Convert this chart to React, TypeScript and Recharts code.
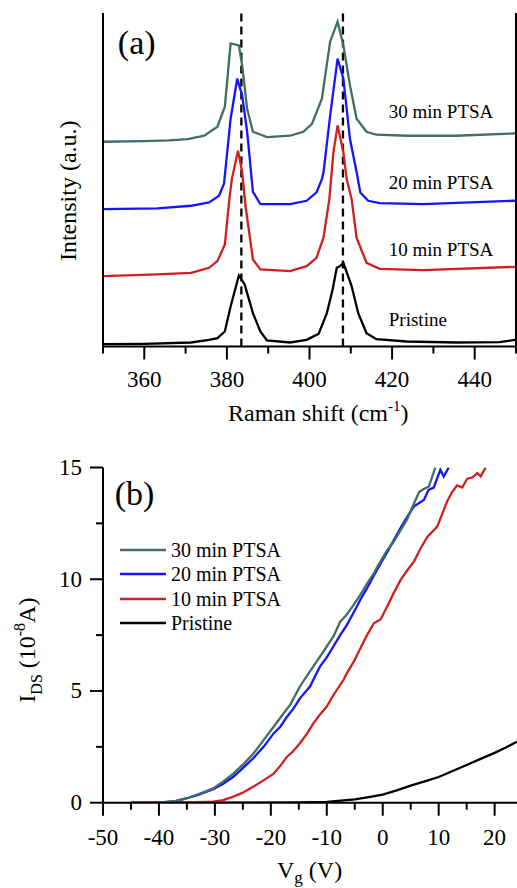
import {
  Legend,
  Line,
  LineChart,
  ReferenceDot,
  ReferenceLine,
  XAxis,
  YAxis,
} from "recharts";

const FONT = "'Liberation Serif', 'DejaVu Serif', serif";

// ---- (a) Raman spectra: [shift (cm-1), intensity (a.u.)], before stacking
const ramanNames = ["Pristine", "10 min PTSA", "20 min PTSA", "30 min PTSA"];
const ramanColors = ["#000000", "#d11f1f", "#1414ff", "#3f6d68"];
const ramanOffsets = [0.5, 20.5, 40.5, 60.5];
const ramanLabelY = [6.2, 27.1, 47.2, 68.5];

const pristineRaman = [
  [350, 0.2], [360, 0.3], [371.3, 0.7], [375.7, 1.5], [377.7, 2.0], [379.5, 4.0],
  [380.9, 11.5], [382.9, 20.8], [384.3, 18.1], [386.3, 9.5], [388.1, 4.0], [389.7, 1.3],
  [395.3, 0.7], [399.3, 1.5], [402.2, 3.3], [404.2, 9.5], [405.6, 16.6], [406.6, 23.1],
  [407.4, 23.6], [408.2, 24.6], [410.2, 17.6], [411.8, 9.5], [413.8, 3.5], [416.2, 1.7],
  [423.5, 1.0], [435.5, 0.7], [446, 0.8], [449.8, 1.5],
];
const tenMinRaman = [
  [350, 0.6], [363.2, 1.1], [371.3, 1.6], [375.7, 3.1], [377.7, 5.1], [379.5, 10.1],
  [380.6, 23.7], [381.2, 29.7], [382.7, 38.2], [383.7, 31.8], [384.5, 21.7], [386.3, 5.6],
  [388.1, 2.6], [395.3, 2.1], [399.3, 3.6], [401.7, 6.1], [403.4, 12.2], [404.8, 23.7],
  [405.8, 37.8], [406.8, 45.8], [408.2, 37.8], [409, 29.7], [410.2, 23.7], [411.4, 12.1],
  [413.8, 4.6], [417, 2.8], [427.5, 2.4], [449.8, 3.4],
];
const twentyMinRaman = [
  [350, 0.7], [363.2, 0.9], [371.3, 1.7], [375.7, 2.7], [378.1, 4.7], [379.3, 8.3],
  [380.9, 27.8], [382.5, 39.8], [383.7, 34.8], [384.9, 23.9], [386.3, 5.9], [388.1, 2.2],
  [395.3, 2.2], [399.3, 3.2], [401.7, 5.7], [403, 9.7], [403.4, 11.8], [405, 28.7],
  [406.8, 45.8], [408.2, 39.8], [409.8, 21.7], [411.4, 11.8], [412.3, 5.7], [414.2, 3.2],
  [417, 2.5], [427.5, 2.2], [449.8, 3.2],
];
const thirtyMinRaman = [
  [350, 0.9], [360, 1.1], [366, 1.3], [370.5, 1.7], [374.5, 2.7], [377.7, 5.4],
  [379.5, 11.4], [380.9, 30.4], [382.9, 29.8], [383.7, 23.8], [384.9, 10.8], [386.3, 3.9],
  [389.7, 2.3], [395.3, 2.7], [398.5, 3.9], [400.6, 6.3], [403, 13.8], [405, 30.9],
  [406.8, 36.9], [408.2, 29.8], [409.8, 17.8], [411.4, 7.8], [413.8, 3.9], [416.2, 3.0],
  [423.5, 2.7], [435.5, 2.7], [449.8, 3.4],
];
const ramanSpectra = [pristineRaman, tenMinRaman, twentyMinRaman, thirtyMinRaman];

const ramanTicks = [350, 360, 370, 380, 390, 400, 410, 420, 430, 440, 450];
const ramanMajor = [360, 380, 400, 420, 440];
const peakLines = [383.5, 408.1];

// ---- (b) transfer curves: [Vg (V), IDS (1e-8 A)]
const ivNames = ["Pristine", "10 min PTSA", "20 min PTSA", "30 min PTSA"];
const ivColors = ["#000000", "#d11f1f", "#1414ff", "#3f6d68"];

const pristineIV = [
  [-45, 0], [-35, 0], [-25, 0], [-15, 0.01], [-10, 0.04], [-5, 0.15], [-2.5, 0.25],
  [0, 0.36], [2.5, 0.55], [5, 0.76], [7.5, 0.95], [10, 1.15], [12.5, 1.42],
  [15, 1.69], [17.5, 1.96], [20, 2.23], [22, 2.47], [24, 2.73],
];
const tenMinIV = [
  [-45, 0], [-40, 0], [-35, 0.01], [-30.3, 0.05], [-28.5, 0.12], [-26.7, 0.27],
  [-25, 0.45], [-23.1, 0.72], [-21.3, 1.0], [-19.5, 1.3], [-18.3, 1.65], [-17.1, 2.06],
  [-16, 2.3], [-14.8, 2.66], [-13.5, 3.1], [-12.4, 3.55], [-11.2, 3.95], [-10, 4.3],
  [-8.8, 4.82], [-7, 5.5], [-6.4, 5.8], [-5.2, 6.3], [-4, 6.9], [-2.8, 7.5],
  [-1.6, 8.03], [-0.4, 8.2], [0.8, 8.78], [2, 9.4], [3.2, 9.97], [4.4, 10.4],
  [5.6, 10.8], [6.8, 11.4], [8, 11.9], [9.75, 12.36], [10.6, 12.9], [11.5, 13.48],
  [12.4, 13.9], [13.3, 14.2], [14.2, 14.1], [15.1, 14.5], [16, 14.55], [16.9, 14.75],
  [17.5, 14.6], [18.4, 15],
];
const twentyMinIV = [
  [-40, 0], [-37, 0.07], [-35, 0.2], [-33, 0.35], [-30.3, 0.6], [-28.5, 0.85],
  [-26.7, 1.16], [-25, 1.55], [-23.1, 2.0], [-21.3, 2.5], [-19.5, 3.1], [-18.3, 3.4],
  [-17.1, 3.85], [-16, 4.2], [-14.8, 4.67], [-13, 5.2], [-12, 5.7], [-11.2, 6.1],
  [-10, 6.5], [-8.8, 7.0], [-7.6, 7.5], [-6.4, 7.96], [-5, 8.6], [-4, 9.08],
  [-2.8, 9.6], [-1.5, 10.2], [-0.4, 10.7], [1, 11.3], [2, 11.76], [3.2, 12.3],
  [4.4, 12.8], [5.6, 13.26], [7.35, 13.55], [8.2, 14.0], [9.1, 14.1], [10.3, 14.9],
  [10.9, 14.6], [11.8, 15],
];
const thirtyMinIV = [
  [-40, 0], [-37, 0.08], [-35, 0.2], [-33, 0.38], [-30.3, 0.64], [-28.5, 0.95],
  [-26.7, 1.3], [-25, 1.7], [-23.1, 2.2], [-21.3, 2.8], [-19.5, 3.4], [-18, 3.9],
  [-16.5, 4.4], [-14.8, 5.2], [-13.5, 5.7], [-12.4, 6.1], [-10.5, 6.8], [-8.8, 7.45],
  [-7.6, 8.1], [-6.5, 8.4], [-5.2, 8.85], [-4, 9.3], [-2.8, 9.8], [-1.5, 10.3],
  [-1, 10.55], [0.8, 11.3], [2, 11.7], [3.2, 12.2], [4.4, 12.7], [5.6, 13.4],
  [6.5, 13.9], [7.1, 14.0], [8.25, 14.15], [9.4, 15],
];
const ivCurves = [pristineIV, tenMinIV, twentyMinIV, thirtyMinIV];

const vgTicks = [-50, -45, -40, -35, -30, -25, -20, -15, -10, -5, 0, 5, 10, 15, 20];
const vgMajor = [-50, -40, -30, -20, -10, 0, 10, 20];
const idsTicks = [0, 2.5, 5, 7.5, 10, 12.5, 15];
const idsMajor = [0, 5, 10, 15];

const ramanData = ramanSpectra.map((pts, i) =>
  pts.map(([x, v]) => ({ x, y: v + ramanOffsets[i] }))
);
const ivData = ivCurves.map((pts) => pts.map(([x, v]) => ({ x, y: v })));

const serif = { fontFamily: FONT };
const tickFont = { style: serif, fontSize: 23, fill: "#000" };

const bottomTick = (major: number[], labelDy: number) => (p: any) => {
  const isMajor = major.includes(p.payload.value);
  return (
    <g>
      <line x1={p.x} x2={p.x} y1={p.y} y2={p.y + (isMajor ? 13 : 7)} stroke="#000" strokeWidth={2} />
      {isMajor && (
        <text x={p.x} y={p.y + labelDy} textAnchor="middle" {...tickFont}>
          {p.payload.value}
        </text>
      )}
    </g>
  );
};

const leftTick = (major: number[]) => (p: any) => {
  const isMajor = major.includes(p.payload.value);
  return (
    <g>
      <line x1={p.x} x2={p.x - (isMajor ? 13 : 7)} y1={p.y} y2={p.y} stroke="#000" strokeWidth={2} />
      {isMajor && (
        <text x={p.x - 21} y={p.y + 7.5} textAnchor="end" {...tickFont}>
          {p.payload.value}
        </text>
      )}
    </g>
  );
};

const topTick = (p: any) => (
  <line x1={p.x} x2={p.x} y1={p.y} y2={p.y + 4} stroke="#000" strokeWidth={1.5} />
);

const textShape = (text: string, size: number) => (p: any) => (
  <text x={p.cx} y={p.cy} style={serif} fontSize={size} fill="#000">
    {text}
  </text>
);

const axisLine = { stroke: "#000", strokeWidth: 2 };

const RamanPanel = () => (
  <LineChart width={517} height={440} margin={{ top: 13, right: 1, bottom: 33.5, left: 0 }}>
    <XAxis
      dataKey="x"
      type="number"
      domain={[350, 450]}
      ticks={ramanTicks}
      interval={0}
      allowDataOverflow
      height={60}
      tickSize={0}
      tickMargin={0}
      axisLine={axisLine}
      tick={bottomTick(ramanMajor, 40)}
      label={(p: any) => {
        const vb = p.viewBox || { x: 103, y: 346.5, width: 413 };
        return (
          <text x={vb.x + 125} y={vb.y + 74.5} style={serif} fontSize={24} fill="#000">
            Raman shift (cm
            <tspan fontSize={15} dy={-10}>-1</tspan>
            <tspan dy={10}>)</tspan>
          </text>
        );
      }}
    />
    <XAxis
      xAxisId="top"
      orientation="top"
      type="number"
      domain={[350, 450]}
      ticks={ramanTicks}
      interval={0}
      height={0}
      tickSize={0}
      tickMargin={0}
      axisLine={axisLine}
      tick={topTick}
    />
    <YAxis
      type="number"
      domain={[0, 100]}
      width={103}
      tick={false}
      tickLine={false}
      axisLine={axisLine}
      label={(p: any) => {
        const vb = p.viewBox || { x: 0, y: 13, width: 103, height: 333.5 };
        const cx = vb.x + 76;
        const cy = vb.y + vb.height / 2 + 11;
        return (
          <text
            x={cx}
            y={cy}
            transform={`rotate(-90 ${cx} ${cy})`}
            textAnchor="middle"
            style={serif}
            fontSize={24}
            fill="#000"
          >
            Intensity (a.u.)
          </text>
        );
      }}
    />
    <ReferenceLine x={450} stroke="#000" strokeWidth={2} />
    {peakLines.map((v) => (
      <ReferenceLine key={v} x={v} stroke="#000" strokeWidth={2.3} strokeDasharray="8 5" />
    ))}
    {ramanData.map((d, i) => (
      <Line
        key={ramanNames[i]}
        data={d}
        dataKey="y"
        type="linear"
        stroke={ramanColors[i]}
        strokeWidth={2.3}
        dot={false}
        isAnimationActive={false}
      />
    ))}
    {ramanNames.map((n, i) => (
      <ReferenceDot key={n} x={419.2} y={ramanLabelY[i]} r={0} shape={textShape(n, 19)} />
    ))}
    <ReferenceDot x={353.6} y={87.7} r={0} shape={textShape("(a)", 34)} />
  </LineChart>
);

const IVPanel = () => (
  <LineChart width={517} height={448} margin={{ top: 27.5, right: 0, bottom: 25.3, left: 0 }}>
    <XAxis
      dataKey="x"
      type="number"
      domain={[-50, 24]}
      ticks={vgTicks}
      interval={0}
      allowDataOverflow
      height={60}
      tickSize={0}
      tickMargin={0}
      axisLine={axisLine}
      tick={bottomTick(vgMajor, 42)}
      label={(p: any) => {
        const vb = p.viewBox || { x: 103, y: 362.7, width: 414 };
        return (
          <text x={vb.x + 174} y={vb.y + 75.3} style={serif} fontSize={24} fill="#000">
            V
            <tspan fontSize={17} dy={5}>g</tspan>
            <tspan dy={-5}> (V)</tspan>
          </text>
        );
      }}
    />
    <XAxis
      xAxisId="top"
      orientation="top"
      type="number"
      domain={[-50, 24]}
      ticks={vgTicks}
      interval={0}
      height={0}
      tickSize={0}
      tickMargin={0}
      axisLine={axisLine}
      tick={topTick}
    />
    <YAxis
      type="number"
      domain={[0, 15]}
      ticks={idsTicks}
      interval={0}
      allowDataOverflow
      width={103}
      tickSize={0}
      tickMargin={0}
      axisLine={axisLine}
      tick={leftTick(idsMajor)}
      label={(p: any) => {
        const vb = p.viewBox || { x: 0, y: 27.5, width: 103, height: 335.2 };
        const cx = vb.x + 35;
        const cy = vb.y + vb.height / 2 + 15;
        return (
          <text
            x={cx}
            y={cy}
            transform={`rotate(-90 ${cx} ${cy})`}
            textAnchor="middle"
            style={serif}
            fontSize={24}
            fill="#000"
          >
            I<tspan fontSize={16} dy={7}>DS</tspan>
            <tspan dy={-7}> (10</tspan>
            <tspan fontSize={16} dy={-10}>-8</tspan>
            <tspan dy={10}>A)</tspan>
          </text>
        );
      }}
    />
    {ivData.map((d, i) => (
      <Line
        key={ivNames[i]}
        data={d}
        dataKey="y"
        type="linear"
        stroke={ivColors[i]}
        strokeWidth={2.3}
        dot={false}
        isAnimationActive={false}
      />
    ))}
    <ReferenceDot x={-47.9} y={13.32} r={0} shape={textShape("(b)", 34)} />
    <Legend
      layout="vertical"
      align="center"
      verticalAlign="middle"
      wrapperStyle={{ left: 120, top: 97.8, width: 200, height: "auto" }}
      content={() => (
        <div>
          {ivNames
            .map((n, i) => ({ n, c: ivColors[i] }))
            .reverse()
            .map(({ n, c }) => (
              <div key={n} style={{ display: "flex", alignItems: "center", height: 24.4 }}>
                <svg width={46} height={4} style={{ display: "block" }}>
                  <line x1={0} x2={46} y1={2} y2={2} stroke={c} strokeWidth={2.5} />
                </svg>
                <span style={{ marginLeft: 5, fontFamily: FONT, fontSize: 20, lineHeight: "24.4px", color: "#000" }}>
                  {n}
                </span>
              </div>
            ))}
        </div>
      )}
    />
  </LineChart>
);

export default function App() {
  return (
    <div style={{ position: "absolute", left: 0, top: 0, width: 517, height: 888, background: "#fff", fontFamily: FONT }}>
      <RamanPanel />
      <IVPanel />
    </div>
  );
}
